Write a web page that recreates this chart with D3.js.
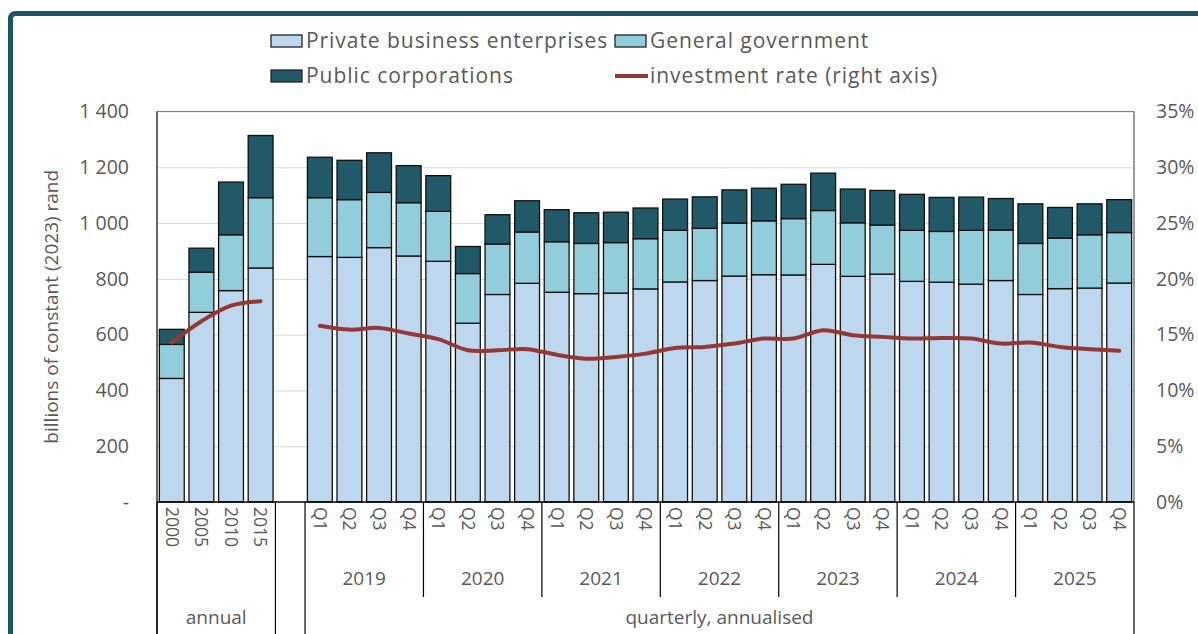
<!DOCTYPE html>
<html>
<head>
<meta charset="utf-8">
<script src="https://cdn.jsdelivr.net/npm/d3@7"></script>
<style>
  html, body { margin: 0; padding: 0; background: #fff; }
  svg { display: block; font-family: "Open Sans", "Noto Sans", sans-serif; }
</style>
</head>
<body>
<svg id="chart" width="1198" height="634"></svg>
<script>
// categories (slot 4 is the empty gap between annual and quarterly)
const annualLabels = ['2000', '2005', '2010', '2015'];
const years = ['2019', '2020', '2021', '2022', '2023', '2024', '2025'];
const quarterNames = ['Q1', 'Q2', 'Q3', 'Q4'];

// billions of constant (2023) rand: 4 annual values then 28 quarters
const privateBiz = [443, 680, 758, 839,
    880, 877, 912, 882,   863, 641, 744, 784,   752, 747, 749, 764,
    789, 794, 810, 815,   814, 852, 809, 817,   791, 788, 781, 794,
    744, 765, 767, 785];
const generalGov = [122, 144, 200, 252,
    211, 207, 198, 191,   179, 178, 181, 184,   181, 180, 181, 180,
    185, 187, 190, 193,   202, 193, 192, 176,   183, 182, 193, 181,
    183, 181, 191, 181];
const publicCorp = [54, 86, 189, 223,
    145, 141, 142, 133,   128, 97, 105, 112,   115, 110, 109, 110,
    112, 113, 119, 117,   123, 134, 121, 124,   129, 122, 119, 113,
    142, 110, 111, 118];
// investment rate, % (right axis)
const investRate = [14.3, 16.2, 17.6, 18.0,
    15.8, 15.45, 15.6, 15.1,   14.6, 13.6, 13.6, 13.7,   13.2, 12.85, 13.0, 13.3,
    13.8, 13.9, 14.2, 14.65,   14.65, 15.4, 14.95, 14.8,   14.65, 14.7, 14.65, 14.2,
    14.3, 13.9, 13.7, 13.55];

const leftTicks = [0, 200, 400, 600, 800, 1000, 1200, 1400];
const rightTicks = [0, 5, 10, 15, 20, 25, 30, 35];

const seriesNames = ['Private business enterprises', 'General government', 'Public corporations'];
const colors = ['#bdd7ee', '#92cddc', '#215968'];
const lineColor = '#953735';
const textColor = '#595959';

// build the slot table: annual, gap, quarterly
const slots = [];
annualLabels.forEach((lab, i) => slots.push({ key: 'a' + i, label: lab, idx: i }));
slots.push({ key: 'gap', label: '', idx: null });
years.forEach((y, yi) => quarterNames.forEach((q, qi) => {
    slots.push({ key: y + q, label: q, year: y, idx: 4 + yi * 4 + qi });
}));

const svg = d3.select('#chart');
const margin = { left: 157, right: 1134, top: 111.5, bottom: 502 };

const x = d3.scaleBand()
    .domain(slots.map(d => d.key))
    .range([margin.left, margin.right])
    .paddingInner(0.16)
    .paddingOuter(0.08);
const y = d3.scaleLinear().domain([0, 1400]).range([margin.bottom, margin.top]);
const yR = d3.scaleLinear().domain([0, 35]).range([margin.bottom, margin.top]);
const step = x.step();

// outer frame
svg.append('path')
    .attr('d', 'M10.5,640 L10.5,19 Q10.5,13.5 16,13.5 L1210,13.5')
    .attr('fill', 'none')
    .attr('stroke', '#1f5468')
    .attr('stroke-width', 5);

// gridlines
svg.append('g')
    .selectAll('line')
    .data(leftTicks.slice(1))
    .join('line')
    .attr('x1', margin.left).attr('x2', margin.right)
    .attr('y1', d => y(d) + 0.5).attr('y2', d => y(d) + 0.5)
    .attr('stroke', '#d9d9d9')
    .attr('stroke-width', 1);

// plot border
svg.append('line')
    .attr('x1', margin.left).attr('x2', margin.right)
    .attr('y1', margin.top).attr('y2', margin.top)
    .attr('stroke', '#7f7f7f').attr('stroke-width', 1);
svg.append('line')
    .attr('x1', margin.right).attr('x2', margin.right)
    .attr('y1', margin.top).attr('y2', margin.bottom)
    .attr('stroke', '#595959').attr('stroke-width', 1.2);

// stacked bars
const barRows = slots.filter(s => s.idx !== null).map(s => ({
    key: s.key,
    private: privateBiz[s.idx],
    gov: generalGov[s.idx],
    pub: publicCorp[s.idx]
}));
const stack = d3.stack().keys(['private', 'gov', 'pub'])(barRows);

svg.append('g')
    .selectAll('g')
    .data(stack)
    .join('g')
    .attr('fill', (d, i) => colors[i])
    .selectAll('rect')
    .data(d => d)
    .join('rect')
    .attr('x', d => x(d.data.key))
    .attr('y', d => y(d[1]))
    .attr('width', x.bandwidth())
    .attr('height', d => y(d[0]) - y(d[1]))
    .attr('stroke', '#111')
    .attr('stroke-width', 1.3);

// investment rate line (separate annual and quarterly pieces)
const linePts = slots.map(s => ({ key: s.key, v: s.idx === null ? null : investRate[s.idx] }));
const line = d3.line()
    .defined(d => d.v !== null)
    .x(d => x(d.key) + x.bandwidth() / 2)
    .y(d => yR(d.v))
    .curve(d3.curveCatmullRom);
svg.append('path')
    .datum(linePts)
    .attr('d', line)
    .attr('fill', 'none')
    .attr('stroke', lineColor)
    .attr('stroke-width', 4)
    .attr('stroke-linecap', 'round');

// left axis
svg.append('line')
    .attr('x1', margin.left).attr('x2', margin.left)
    .attr('y1', margin.top).attr('y2', 634)
    .attr('stroke', '#000').attr('stroke-width', 1.2);
svg.append('g')
    .selectAll('text')
    .data(leftTicks)
    .join('text')
    .attr('x', 129)
    .attr('y', d => y(d))
    .attr('dy', '0.35em')
    .attr('text-anchor', 'end')
    .attr('font-size', 19.5)
    .attr('fill', textColor)
    .text(d => d === 0 ? '-' : d3.format(',')(d).replace(',', ' '));

svg.append('text')
    .attr('transform', 'translate(58,' + ((margin.top + margin.bottom) / 2) + ') rotate(-90)')
    .attr('text-anchor', 'middle')
    .attr('font-size', 19)
    .attr('fill', textColor)
    .text('billions of constant (2023) rand');

// right axis
svg.append('g')
    .selectAll('text')
    .data(rightTicks)
    .join('text')
    .attr('x', 1156)
    .attr('y', d => yR(d))
    .attr('dy', '0.35em')
    .attr('font-size', 19.5)
    .attr('fill', textColor)
    .text(d => d + '%');

// category axis
svg.append('line')
    .attr('x1', margin.left).attr('x2', margin.right)
    .attr('y1', margin.bottom).attr('y2', margin.bottom)
    .attr('stroke', '#000').attr('stroke-width', 1.3);

const cat = svg.append('g');
cat.selectAll('text.tick')
    .data(slots.filter(s => s.label))
    .join('text')
    .attr('class', 'tick')
    .attr('transform', d => 'translate(' + (x(d.key) + x.bandwidth() / 2) + ',507) rotate(90)')
    .attr('dy', '0.35em')
    .attr('font-size', 17.5)
    .attr('fill', textColor)
    .text(d => d.label);

// group separators
const xAt = i => margin.left + i * step + (x.range()[1] - x.range()[0] - step * slots.length) / 2;
const tallSeps = [0, 4, 5, slots.length];
cat.selectAll('line.tall')
    .data(tallSeps)
    .join('line')
    .attr('x1', d => xAt(d)).attr('x2', d => xAt(d))
    .attr('y1', margin.bottom).attr('y2', 634)
    .attr('stroke', '#000').attr('stroke-width', 1.2);
cat.selectAll('line.year')
    .data(d3.range(1, years.length))
    .join('line')
    .attr('x1', d => xAt(5 + d * 4)).attr('x2', d => xAt(5 + d * 4))
    .attr('y1', margin.bottom).attr('y2', 597)
    .attr('stroke', '#000').attr('stroke-width', 1.2);

cat.selectAll('text.year')
    .data(years)
    .join('text')
    .attr('x', (d, i) => (xAt(5 + i * 4) + xAt(9 + i * 4)) / 2)
    .attr('y', 585)
    .attr('text-anchor', 'middle')
    .attr('font-size', 19)
    .attr('fill', textColor)
    .text(d => d);

cat.append('text')
    .attr('x', (xAt(0) + xAt(4)) / 2)
    .attr('y', 624)
    .attr('text-anchor', 'middle')
    .attr('font-size', 19)
    .attr('fill', textColor)
    .text('annual');
cat.append('text')
    .attr('x', (xAt(5) + xAt(slots.length)) / 2)
    .attr('y', 624)
    .attr('text-anchor', 'middle')
    .attr('font-size', 19)
    .attr('fill', textColor)
    .text('quarterly, annualised');

// legend
const legendItems = [
    { name: seriesNames[0], kind: 'box', color: colors[0], x: 271, y: 41 },
    { name: seriesNames[1], kind: 'box', color: colors[1], x: 615, y: 41 },
    { name: seriesNames[2], kind: 'box', color: colors[2], x: 271, y: 76 },
    { name: 'investment rate (right axis)', kind: 'line', color: lineColor, x: 615, y: 76 }
];
const leg = svg.append('g')
    .selectAll('g')
    .data(legendItems)
    .join('g')
    .attr('transform', d => 'translate(' + d.x + ',' + d.y + ')');
leg.filter(d => d.kind === 'box')
    .append('rect')
    .attr('x', 0).attr('y', -6)
    .attr('width', 31).attr('height', 12)
    .attr('fill', d => d.color)
    .attr('stroke', '#222').attr('stroke-width', 1.3);
leg.filter(d => d.kind === 'line')
    .append('line')
    .attr('x1', 0).attr('x2', 33)
    .attr('stroke', d => d.color)
    .attr('stroke-width', 4);
leg.append('text')
    .attr('x', 35)
    .attr('dy', '0.35em')
    .attr('font-size', 21)
    .attr('letter-spacing', 0.95)
    .attr('fill', textColor)
    .text(d => d.name);
</script>
</body>
</html>
